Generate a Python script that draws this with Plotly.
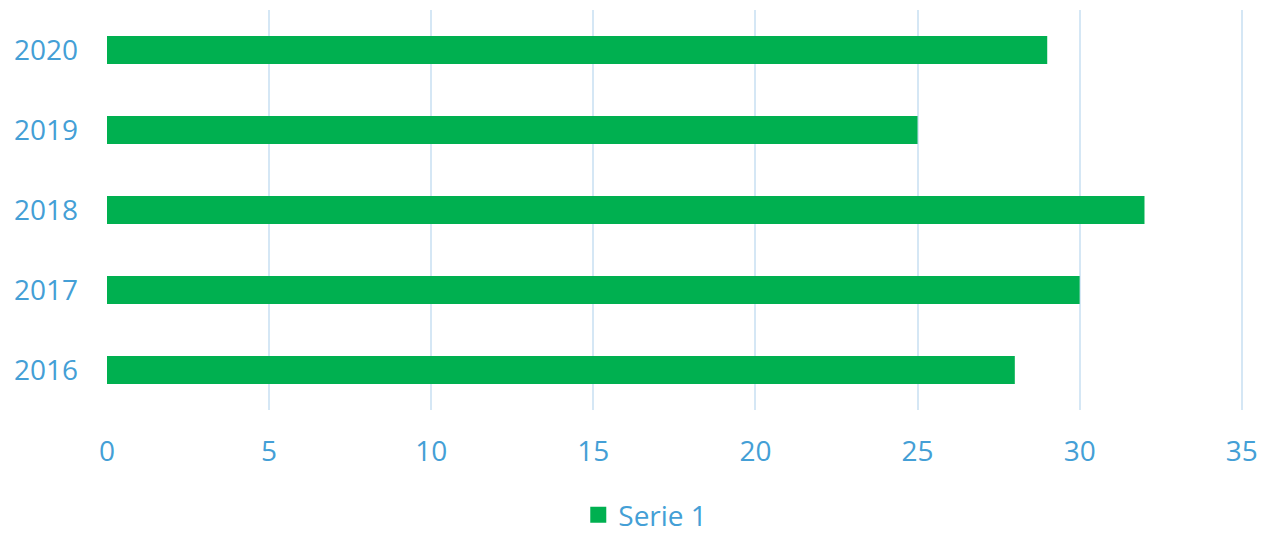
import plotly.graph_objects as go

categories = ["2016", "2017", "2018", "2019", "2020"]
values = [28, 30, 32, 25, 29]
series_name = "Serie 1"
x_ticks = [0, 5, 10, 15, 20, 25, 30, 35]

BLUE = "#449FD6"
GREEN = "#00B050"
GRID = "#D5E7F5"
FONT = "Open Sans"

fig = go.Figure()
fig.add_trace(go.Bar(
    y=categories, x=values, orientation="h", name=series_name,
    marker=dict(color=GREEN, line=dict(width=0)), width=0.35, showlegend=False,
))
# legend entry with a larger square swatch
fig.add_trace(go.Scatter(
    x=[None], y=[None], mode="markers", name=series_name,
    marker=dict(symbol="square", size=24, color=GREEN), showlegend=True,
))

fig.update_layout(
    width=1261, height=533,
    margin=dict(l=107, r=16, t=10, b=123, autoexpand=False),
    paper_bgcolor="white", plot_bgcolor="white",
    font=dict(family=FONT, size=28, color=BLUE),
    legend=dict(orientation="h", x=0.473, xanchor="center", y=-0.2625, yanchor="middle",
                font=dict(family=FONT, size=28, color=BLUE),
                itemwidth=30, bgcolor="rgba(0,0,0,0)"),
)
fig.update_xaxes(range=[0, 35.1], tickvals=x_ticks, ticktext=[str(t) for t in x_ticks],
                 showgrid=True, gridcolor=GRID, gridwidth=2, zeroline=False,
                 showline=False, ticks="", tickfont=dict(size=28, color=BLUE),
                 ticklabelstandoff=22)
fig.update_yaxes(type="category", categoryorder="array", categoryarray=categories,
                 range=[-0.5, 4.5],
                 showgrid=False, zeroline=False, showline=False, ticks="",
                 tickfont=dict(size=28, color=BLUE), ticklabelstandoff=28)

fig.write_html("out.html", config={"displayModeBar": False},
               post_script="document.body.style.margin='0';")
